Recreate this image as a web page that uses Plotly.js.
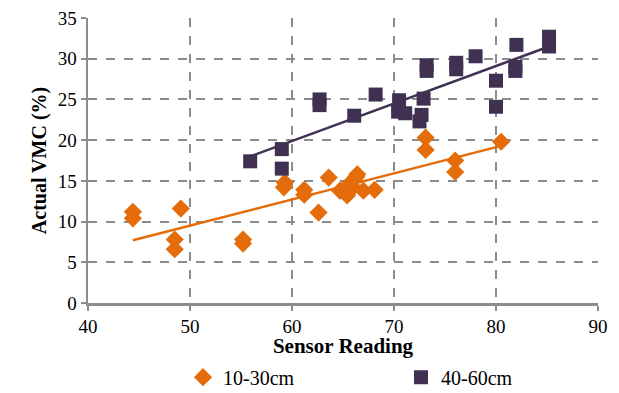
<!DOCTYPE html>
<html>
<head>
<meta charset="utf-8">
<script src="https://cdn.plot.ly/plotly-3.0.1.min.js"></script>
<style>html,body{margin:0;padding:0;background:#fff;}#chart{width:619px;height:393px;}</style>
</head>
<body>
<div id="chart"></div>
<script>
// 10-30cm series
const shallowX = [44.4, 44.4, 49.1, 48.5, 48.5, 55.2, 55.2, 59.3, 59.2, 61.2, 61.2, 62.6, 63.6, 64.7, 65.4, 65.6, 66.3, 66.4, 66.0, 67.0, 68.1, 73.1, 73.1, 76.0, 76.0, 80.5];
const shallowY = [11.2, 10.4, 11.6, 7.8, 6.6, 7.8, 7.3, 14.8, 14.2, 13.9, 13.3, 11.1, 15.4, 13.8, 13.2, 14.6, 15.5, 15.8, 14.2, 13.8, 13.9, 20.3, 18.8, 17.5, 16.1, 19.8];
// 40-60cm series
const deepX = [55.9, 59.0, 59.0, 62.7, 62.7, 66.1, 68.2, 70.5, 70.4, 71.1, 72.5, 72.7, 72.9, 73.2, 73.2, 76.1, 76.1, 78.0, 80.0, 80.0, 82.0, 81.9, 81.9, 85.2, 85.2];
const deepY = [17.4, 18.9, 16.5, 25.0, 24.3, 23.0, 25.6, 24.9, 23.5, 23.3, 22.3, 23.1, 25.1, 29.2, 28.5, 29.5, 28.7, 30.3, 27.3, 24.1, 31.7, 29.0, 28.5, 32.7, 31.5];
// linear trendlines (end points)
const shallowTrendX = [44.4, 80.5];
const shallowTrendY = [7.7, 19.3];
const deepTrendX = [55.9, 85.2];
const deepTrendY = [18.0, 31.5];
const seriesNames = ["10-30cm", "40-60cm"];
const xTicks = [40, 50, 60, 70, 80, 90];
const yTicks = [0, 5, 10, 15, 20, 25, 30, 35];

const orange = "#E46C0A", purple = "#403152";
const serif = "Times New Roman, Liberation Serif, serif";
const data = [
  {x: shallowTrendX, y: shallowTrendY, mode: "lines", line: {color: orange, width: 2.5}, showlegend: false, hoverinfo: "skip"},
  {x: deepTrendX, y: deepTrendY, mode: "lines", line: {color: purple, width: 2.5}, showlegend: false, hoverinfo: "skip"},
  {x: shallowX, y: shallowY, mode: "markers", name: seriesNames[0], marker: {symbol: "diamond", size: 14, color: orange}},
  {x: deepX, y: deepY, mode: "markers", name: seriesNames[1], marker: {symbol: "square", size: 14, color: purple}}
];
const layout = {
  width: 619, height: 393,
  margin: {l: 88, r: 21, t: 18, b: 90},
  paper_bgcolor: "#fff", plot_bgcolor: "#fff",
  font: {family: serif, size: 19, color: "#000"},
  showlegend: true,
  legend: {orientation: "h", x: 0.226, xanchor: "left", xref: "paper", yref: "container", y: 0.09, yanchor: "top",
           entrywidth: 173, entrywidthmode: "pixels", font: {family: serif, size: 20, color: "#000"}, itemclick: false},
  xaxis: {
    range: [40, 90], tickvals: xTicks, ticktext: xTicks.map(String),
    showgrid: true, gridcolor: "#8c8c8c", griddash: "dash", gridwidth: 2,
    showline: true, linecolor: "#8c8c8c", linewidth: 2.5,
    ticks: "outside", ticklen: 5, tickwidth: 2, tickcolor: "#8c8c8c",
    zeroline: false, tickfont: {family: serif, size: 19, color: "#000"}, automargin: "left",
    title: {text: "<b>Sensor Reading</b>", font: {family: serif, size: 21, color: "#000"}, standoff: 7}
  },
  yaxis: {
    range: [0, 35], tickvals: yTicks, ticktext: yTicks.map(String),
    showgrid: true, gridcolor: "#8c8c8c", griddash: "dash", gridwidth: 2,
    showline: true, linecolor: "#8c8c8c", linewidth: 2.5,
    ticks: "outside", ticklen: 5, tickwidth: 2, tickcolor: "#8c8c8c",
    zeroline: false, tickfont: {family: serif, size: 19, color: "#000"},
    title: {text: "<b>Actual VMC (%)</b>", font: {family: serif, size: 20, color: "#000"}, standoff: 6}
  }
};
Plotly.newPlot("chart", data, layout, {displayModeBar: false, staticPlot: true});
</script>
</body>
</html>
